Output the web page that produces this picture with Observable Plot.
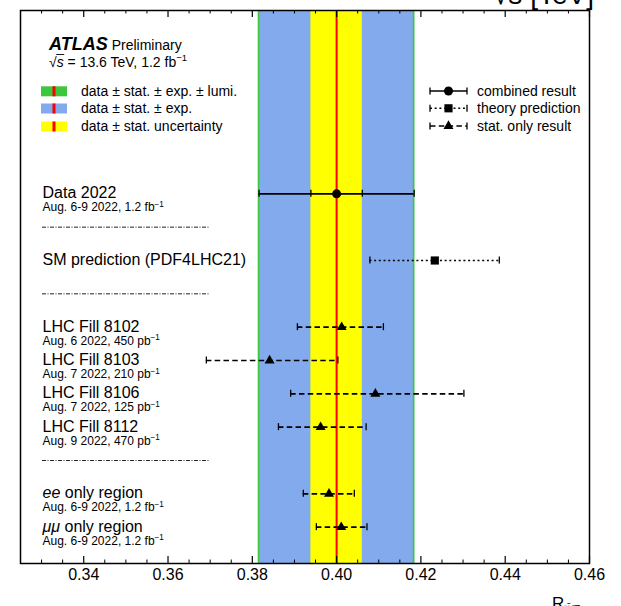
<!DOCTYPE html>
<html><head><meta charset="utf-8">
<script src="https://cdn.jsdelivr.net/npm/d3@7"></script>
<script src="https://cdn.jsdelivr.net/npm/@observablehq/plot@0.6"></script>
<style>body{margin:0;background:#fff;} svg{display:block}</style>
</head><body><div id="chart"></div>
<script>
// ---- data ----
const rowNames = ["Data 2022", "SM prediction (PDF4LHC21)", "LHC Fill 8102", "LHC Fill 8103", "LHC Fill 8106", "LHC Fill 8112", "ee only region", "μμ only region"];
const rowSubs = ["Aug. 6-9 2022, 1.2 fb⁻¹", "", "Aug. 6 2022, 450 pb⁻¹", "Aug. 7 2022, 210 pb⁻¹", "Aug. 7 2022, 125 pb⁻¹", "Aug. 9 2022, 470 pb⁻¹", "Aug. 6-9 2022, 1.2 fb⁻¹", "Aug. 6-9 2022, 1.2 fb⁻¹"];
const rowPos = [11, 9, 7, 6, 5, 4, 2, 1];
const rowKind = ["combined", "theory", "stat", "stat", "stat", "stat", "stat", "stat"];
const centralVals = [0.4000, 0.4233, 0.4012, 0.3841, 0.4092, 0.3962, 0.3982, 0.4011];
const lowVals = [0.3816, 0.4079, 0.3907, 0.3691, 0.3891, 0.3862, 0.3921, 0.3952];
const highVals = [0.4184, 0.4386, 0.4111, 0.4003, 0.4302, 0.4070, 0.4042, 0.4072];
const separators = [10, 8, 3];

const centralValue = 0.400;
const bandNames = ["data ± stat. ± exp. ± lumi.", "data ± stat. ± exp.", "data ± stat. uncertainty"];
const bandHalf = [0.0186, 0.0182, 0.0061];
const bandColors = ["#3cc83c", "#82aaec", "#ffff00"];

const markerNames = ["combined result", "theory prediction", "stat. only result"];

const xDomain = [0.325, 0.46];
const yDomain = [-0.09, 16.5];
const majorTicks = [0.34, 0.36, 0.38, 0.40, 0.42, 0.44, 0.46];
const minorTicks = [0.33, 0.335, 0.345, 0.35, 0.355, 0.365, 0.37, 0.375, 0.385, 0.39, 0.395, 0.405, 0.41, 0.415, 0.425, 0.43, 0.435, 0.445, 0.45, 0.455];

// ---- tables ----
const rows = rowNames.map((name, i) => ({name, sub: rowSubs[i], y: rowPos[i], c: centralVals[i], lo: lowVals[i], hi: highVals[i], kind: rowKind[i]}));
const bands = bandNames.map((name, i) => ({name, lo: centralValue - bandHalf[i], hi: centralValue + bandHalf[i], color: bandColors[i]}));
const caps = rows.flatMap(r => [{x: r.lo, y: r.y}, {x: r.hi, y: r.y}])
  .concat(rows.filter(r => r.kind === "combined").flatMap(r => [{x: bands[2].lo, y: r.y}, {x: bands[2].hi, y: r.y}]));

const FONT = "'Liberation Sans', Arial, Helvetica, sans-serif";
const capH = 0.105;
const frameH = 606 - 10 - 43;

const chart = Plot.plot({
  width: 621, height: 606,
  marginTop: 10, marginBottom: 43, marginLeft: 20, marginRight: 32,
  style: {fontFamily: FONT, fontSize: "16px", background: "white", overflow: "visible", color: "black"},
  x: {domain: xDomain},
  y: {domain: yDomain, axis: null},
  marks: [
    Plot.rect([bands[0]], {x1: "lo", x2: "hi", fill: bands[0].color}),
    Plot.rect([bands[1]], {x1: "lo", x2: "hi", fill: bands[1].color}),
    Plot.rect([bands[2]], {x1: "lo", x2: "hi", fill: bands[2].color}),
    Plot.ruleX([centralValue], {stroke: "#ff0000", strokeWidth: 2}),
    // separators
    Plot.ruleY(separators, {y: d => d, insetLeft: 22, insetRight: 379, stroke: "#222", strokeWidth: 1, strokeDasharray: "4,1.5,1,1.5"}),
    // error bars
    Plot.ruleY(rows.filter(r => r.kind === "combined"), {x1: "lo", x2: "hi", y: "y", stroke: "black", strokeWidth: 1.6}),
    Plot.ruleY(rows.filter(r => r.kind === "theory"), {x1: "lo", x2: "hi", y: "y", stroke: "black", strokeWidth: 1.6, strokeDasharray: "2,2.7"}),
    Plot.ruleY(rows.filter(r => r.kind === "stat"), {x1: "lo", x2: "hi", y: "y", stroke: "black", strokeWidth: 1.6, strokeDasharray: "5.5,3.3"}),
    Plot.ruleX(caps, {x: "x", y1: d => d.y - capH, y2: d => d.y + capH, stroke: "black", strokeWidth: 1.3}),
    // markers
    Plot.dot(rows.filter(r => r.kind === "combined"), {x: "c", y: "y", r: 4.5, fill: "black", symbol: "circle"}),
    Plot.dot(rows.filter(r => r.kind === "theory"), {x: "c", y: "y", r: 4.6, fill: "black", symbol: "square"}),
    Plot.dot(rows.filter(r => r.kind === "stat"), {x: "c", y: "y", r: 3.7, fill: "black", symbol: "triangle"}),
    // labels
    Plot.text(rows, {text: "name", y: "y", frameAnchor: "left", dx: 22, dy: 4.5, lineAnchor: "bottom", textAnchor: "start", fontSize: 16}),
    Plot.text(rows.filter(r => r.sub), {text: "sub", y: "y", frameAnchor: "left", dx: 22, dy: 17.5, lineAnchor: "bottom", textAnchor: "start", fontSize: 12}),
    // ticks (inward, top and bottom)
    Plot.ruleX(majorTicks, {insetTop: frameH - 7, stroke: "black", strokeWidth: 1.2}),
    Plot.ruleX(majorTicks, {insetBottom: frameH - 7, stroke: "black", strokeWidth: 1.2}),
    Plot.ruleX(minorTicks, {insetTop: frameH - 3.5, stroke: "black", strokeWidth: 1}),
    Plot.ruleX(minorTicks, {insetBottom: frameH - 3.5, stroke: "black", strokeWidth: 1}),
    Plot.axisX(majorTicks, {anchor: "bottom", tickSize: 0, tickPadding: 5, tickFormat: d => d.toFixed(2), fontSize: 16, label: null}),
    Plot.frame({stroke: "black", strokeWidth: 1.5})
  ]
});
document.getElementById("chart").appendChild(chart);

const svg = d3.select(chart);

// rich text: superscripts and italics
svg.selectAll("text").each(function () {
  const t = this.textContent;
  const el = d3.select(this);
  if (t.endsWith("⁻¹")) {
    el.text("");
    el.append("tspan").text(t.slice(0, -2));
    el.append("tspan").attr("dy", "-0.55em").style("font-size", "68%").text("−1");
  } else if (t.startsWith("ee ") || t.startsWith("μμ ")) {
    const first = t.slice(0, 2), rest = t.slice(2);
    el.text("");
    el.append("tspan").style("font-style", "italic").text(first);
    el.append("tspan").text(rest);
  }
});

const g = svg.append("g").attr("font-family", FONT).attr("fill", "black").attr("text-anchor", "start");

// clipped title at the very top (only its lower edge is visible)
g.append("text").attr("x", 493).attr("y", 3.5).attr("font-size", 28).text("√s [TeV]");

// ATLAS label
const atl = g.append("text").attr("x", 49).attr("y", 50);
atl.append("tspan").attr("font-weight", "bold").attr("font-style", "italic").attr("font-size", 18).text("ATLAS");
atl.append("tspan").attr("font-size", 14).attr("dx", 4).text("Preliminary");

const ener = g.append("text").attr("x", 49).attr("y", 66.5).attr("font-size", 14);
const sq = ener.append("tspan").text("√");
const ss = ener.append("tspan").style("font-style", "italic").text("s");
ener.append("tspan").text(" = 13.6 TeV, 1.2 fb");
ener.append("tspan").attr("dy", "-0.55em").style("font-size", "68%").text("−1");
const wSq = sq.node().getComputedTextLength();
const wS = ss.node().getComputedTextLength();
g.append("line").attr("x1", 49 + wSq - 0.5).attr("x2", 49 + wSq + wS + 0.5)
  .attr("y1", 66.5 - 12).attr("y2", 66.5 - 12).attr("stroke", "black").attr("stroke-width", 0.9);

// band legend
const bandRowsY = [91.3, 108.5, 126.5];
bands.forEach((b, i) => {
  const cy = bandRowsY[i];
  g.append("rect").attr("x", 41).attr("y", cy - 5).attr("width", 26).attr("height", 10).attr("fill", b.color);
  g.append("rect").attr("x", 52.5).attr("y", cy - 5).attr("width", 3).attr("height", 10).attr("fill", "#ff0000");
  g.append("text").attr("x", 81).attr("y", cy + 4.8).attr("font-size", 14).text(b.name);
});

// marker legend
const markRowsY = [91, 108.3, 126];
const dashes = [null, "2,2.7", "5.5,3.3"];
const syms = [d3.symbolCircle, d3.symbolSquare, d3.symbolTriangle];
const symSize = [Math.PI * 4.5 * 4.5, Math.PI * 4.6 * 4.6, Math.PI * 3.7 * 3.7];
markerNames.forEach((name, i) => {
  const cy = markRowsY[i];
  const ln = g.append("line").attr("x1", 430).attr("x2", 467).attr("y1", cy).attr("y2", cy).attr("stroke", "black").attr("stroke-width", 1.6);
  if (dashes[i]) ln.attr("stroke-dasharray", dashes[i]);
  [430, 467].forEach(x => g.append("line").attr("x1", x).attr("x2", x).attr("y1", cy - 3.5).attr("y2", cy + 3.5).attr("stroke", "black").attr("stroke-width", 1.3));
  g.append("path").attr("transform", `translate(448.5,${cy})`).attr("d", d3.symbol(syms[i], symSize[i])()).attr("fill", "black");
  g.append("text").attr("x", 477).attr("y", cy + 4.8).attr("font-size", 14).text(name);
});

// x-axis title (mostly cut off at the bottom)
const xt = g.append("text").attr("x", 552).attr("y", 608.5).attr("font-size", 17);
xt.append("tspan").text("R");
xt.append("tspan").attr("dy", 4).style("font-size", "65%").text("tt̄/Z");
</script>
</body></html>
